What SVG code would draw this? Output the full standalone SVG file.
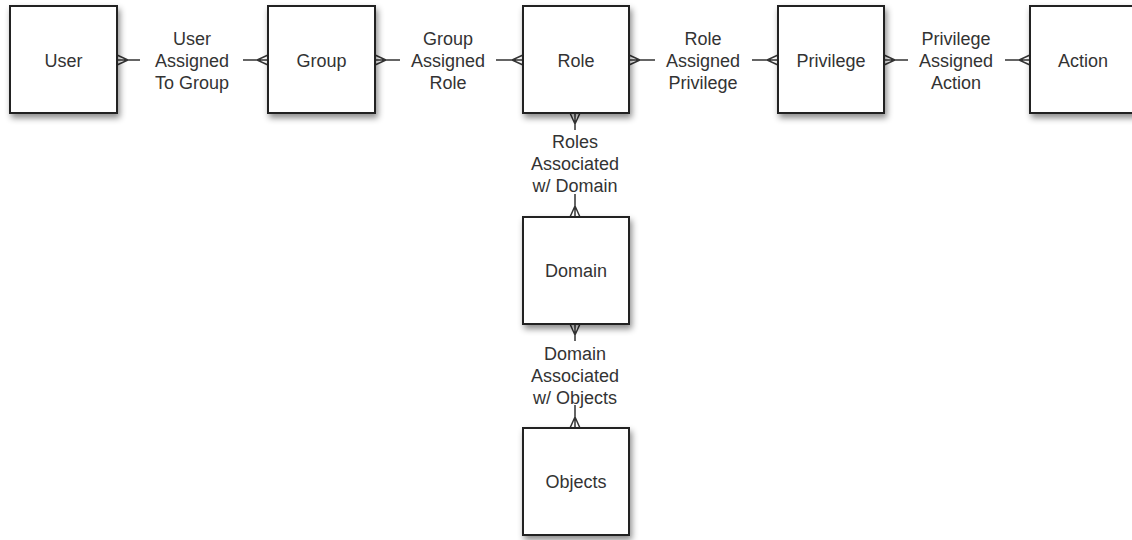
<svg xmlns="http://www.w3.org/2000/svg" width="1132" height="540" viewBox="0 0 1132 540">
  <defs>
    <filter id="shadow" x="-20%" y="-20%" width="140%" height="150%">
      <feDropShadow dx="2" dy="4" stdDeviation="3" flood-color="#000" flood-opacity="0.45"/>
    </filter>
    <style>
      .box { fill: #ffffff; stroke: #222222; stroke-width: 2; filter: url(#shadow); }
      .txt { font-family: "Liberation Sans", Arial, Helvetica, sans-serif; font-size: 18px; fill: #333333; text-anchor: middle; }
      .conn { fill: none; stroke: #333333; stroke-width: 1.5; }
    </style>
  </defs>
  <rect width="1132" height="540" fill="#ffffff"/>

  <g id="connectors">
    <!-- User - Group -->
    <path class="conn" d="M117 60 H140 M117 55 L128 60 L117 65"/>
    <path class="conn" d="M243 60 H268 M268 55 L257 60 L268 65"/>
    <!-- Group - Role -->
    <path class="conn" d="M375 60 H400 M375 55 L386 60 L375 65"/>
    <path class="conn" d="M496 60 H523 M523 55 L512 60 L523 65"/>
    <!-- Role - Privilege -->
    <path class="conn" d="M629 60 H655 M629 55 L640 60 L629 65"/>
    <path class="conn" d="M752 60 H778 M778 55 L767 60 L778 65"/>
    <!-- Privilege - Action -->
    <path class="conn" d="M884 60 H908 M884 55 L895 60 L884 65"/>
    <path class="conn" d="M1005 60 H1030 M1030 55 L1019 60 L1030 65"/>
    <!-- Role - Domain -->
    <path class="conn" d="M575 113 V130 M570 113 L575 124 L580 113"/>
    <path class="conn" d="M575 194 V217 M570 217 L575 206 L580 217"/>
    <!-- Domain - Objects -->
    <path class="conn" d="M575 324 V341 M570 324 L575 335 L580 324"/>
    <path class="conn" d="M575 405 V428 M570 428 L575 417 L580 428"/>
  </g>

  <g id="label-user-group">
    <text class="txt" x="192" y="44.5">User</text>
    <text class="txt" x="192" y="66.5">Assigned</text>
    <text class="txt" x="192" y="88.5">To Group</text>
  </g>
  <g id="label-group-role">
    <text class="txt" x="448" y="44.5">Group</text>
    <text class="txt" x="448" y="66.5">Assigned</text>
    <text class="txt" x="448" y="88.5">Role</text>
  </g>
  <g id="label-role-privilege">
    <text class="txt" x="703" y="44.5">Role</text>
    <text class="txt" x="703" y="66.5">Assigned</text>
    <text class="txt" x="703" y="88.5">Privilege</text>
  </g>
  <g id="label-privilege-action">
    <text class="txt" x="956" y="44.5">Privilege</text>
    <text class="txt" x="956" y="66.5">Assigned</text>
    <text class="txt" x="956" y="88.5">Action</text>
  </g>
  <g id="label-role-domain">
    <text class="txt" x="575" y="148">Roles</text>
    <text class="txt" x="575" y="170">Associated</text>
    <text class="txt" x="575" y="192">w/ Domain</text>
  </g>
  <g id="label-domain-objects">
    <text class="txt" x="575" y="359.5">Domain</text>
    <text class="txt" x="575" y="381.5">Associated</text>
    <text class="txt" x="575" y="403.5">w/ Objects</text>
  </g>

  <g id="node-user">
    <rect class="box" x="10" y="6" width="107" height="107"/>
    <text class="txt" x="63.5" y="66.5">User</text>
  </g>
  <g id="node-group">
    <rect class="box" x="268" y="6" width="107" height="107"/>
    <text class="txt" x="321.5" y="66.5">Group</text>
  </g>
  <g id="node-role">
    <rect class="box" x="523" y="6" width="106" height="107"/>
    <text class="txt" x="576" y="66.5">Role</text>
  </g>
  <g id="node-privilege">
    <rect class="box" x="778" y="6" width="106" height="107"/>
    <text class="txt" x="831" y="66.5">Privilege</text>
  </g>
  <g id="node-action">
    <rect class="box" x="1030" y="6" width="106" height="107"/>
    <text class="txt" x="1083" y="66.5">Action</text>
  </g>
  <g id="node-domain">
    <rect class="box" x="523" y="217" width="106" height="107"/>
    <text class="txt" x="576" y="277">Domain</text>
  </g>
  <g id="node-objects">
    <rect class="box" x="523" y="428" width="106" height="107"/>
    <text class="txt" x="576" y="488">Objects</text>
  </g>
</svg>
